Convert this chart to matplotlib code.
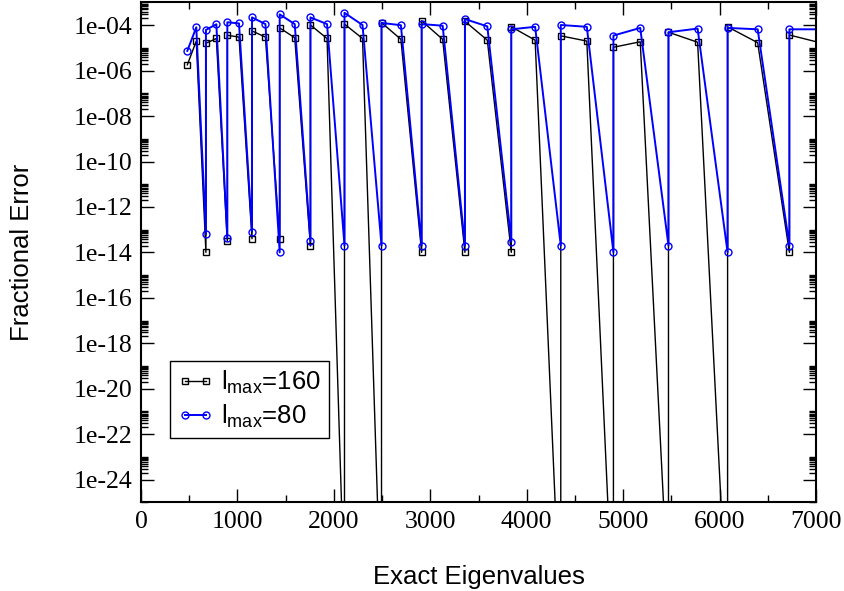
import numpy as np
import matplotlib.pyplot as plt
from matplotlib.ticker import FixedLocator, FuncFormatter, MultipleLocator, NullFormatter

# exact eigenvalues (the last one lies just past the x range)
eigenvalues = [480, 573, 673, 781, 895, 1016, 1151, 1290, 1438, 1594, 1757, 1929,
               2110, 2297, 2494, 2695, 2910, 3128, 3359, 3591, 3840, 4087, 4353,
               4623, 4899, 5177, 5470, 5772, 6083, 6395, 6724, 7065]

# fractional error, lmax = 160
err160_high = [1.8e-6, 2.0e-5, 1.6e-5, 2.6e-5, 3.6e-5, 3.0e-5, 5.6e-5, 3.0e-5,
               7.6e-5, 2.8e-5, 1.02e-4, 2.6e-5, 1.12e-4, 2.6e-5, 1.29e-4, 2.4e-5,
               1.55e-4, 2.4e-5, 1.48e-4, 2.2e-5, 8.5e-5, 2.2e-5, 3.4e-5, 2.0e-5,
               1.07e-5, 1.86e-5, 4.9e-5, 1.78e-5, 8.5e-5, 1.7e-5, 3.7e-5, 1.6e-5]
# the degenerate partner (every second eigenvalue from 673 on)
err160_low = [1.0e-14, 3.1e-14, 4.0e-14, 4.0e-14, 1.9e-14, 5.8e-30, 3.5e-31, 1.0e-14,
              1.0e-14, 1.0e-14, 1.8e-31, 3.7e-31, 4.4e-30, 1.9e-31, 1.0e-14]

# fractional error, lmax = 80
err80_high = [7.4e-6, 8.1e-5, 6.2e-5, 1.10e-4, 1.35e-4, 1.20e-4, 2.2e-4, 1.12e-4,
              3.0e-4, 1.12e-4, 2.2e-4, 1.12e-4, 3.5e-4, 1.02e-4, 1.26e-4, 1.0e-4,
              1.12e-4, 9.5e-5, 1.86e-4, 8.9e-5, 6.6e-5, 8.5e-5, 1.02e-4, 8.5e-5,
              3.5e-5, 7.6e-5, 4.9e-5, 7.1e-5, 7.6e-5, 6.6e-5, 6.6e-5, 6.6e-5]
err80_low = [6.3e-14, 4.2e-14, 8.1e-14, 1.0e-14, 3.1e-14, 2.0e-14, 2.0e-14, 2.0e-14,
             2.0e-14, 3.0e-14, 2.0e-14, 1.0e-14, 2.0e-14, 1.0e-14, 2.0e-14]


def trace(high, low):
    # low partner comes first, then the high one at the same eigenvalue
    xs, ys = [], []
    lo = iter(low)
    for i, (x, h) in enumerate(zip(eigenvalues, high)):
        if i >= 2 and i % 2 == 0:
            xs.append(x)
            ys.append(next(lo))
        xs.append(x)
        ys.append(h)
    return xs, ys


plt.rcParams['font.family'] = ['Liberation Sans', 'DejaVu Sans']
plt.rcParams['mathtext.fontset'] = 'custom'
plt.rcParams['mathtext.rm'] = 'Liberation Sans'

fig = plt.figure(figsize=(8.45, 5.91), dpi=100)
ax = fig.add_axes([0.1669, 0.1501, 0.7988, 0.8457])

x1, y1 = trace(err160_high, err160_low)
x2, y2 = trace(err80_high, err80_low)
ax.plot(x1, y1, color='black', lw=1.0, marker='s', ms=4.2, mfc='none', mew=1.0,
        label=r'l$_{\mathregular{max}}$=160')
ax.plot(x2, y2, color='#0000ff', lw=1.4, marker='o', ms=5.0, mfc='none', mew=1.0,
        label=r'l$_{\mathregular{max}}$=80')

ax.set_yscale('log')
ax.set_xlim(0, 7000)
ax.set_ylim(1e-25, 1e-3)

ax.xaxis.set_major_locator(MultipleLocator(1000))
ax.xaxis.set_minor_locator(MultipleLocator(500))
ax.yaxis.set_major_locator(FixedLocator([10.0 ** e for e in range(-24, -3, 2)]))
ax.yaxis.set_major_formatter(FuncFormatter(lambda v, p: f"1e-{-int(round(np.log10(v))):02d}"))
ax.yaxis.set_minor_locator(FixedLocator([k * 10.0 ** e for e in range(-26, -3, 2) for k in range(2, 11)]))
ax.yaxis.set_minor_formatter(NullFormatter())

ax.tick_params(which='both', direction='in', top=True, right=True, width=1.0)
ax.tick_params(which='major', length=9.5, pad=6)
ax.tick_params(which='minor', length=5)
for lab in ax.get_xticklabels() + ax.get_yticklabels():
    lab.set_family('Liberation Serif')
    lab.set_fontsize(18.5)
for sp in ax.spines.values():
    sp.set_linewidth(1.5)

ax.set_xlabel('Exact Eigenvalues', fontsize=18.5)
ax.set_ylabel('Fractional Error', fontsize=18.5)
ax.xaxis.set_label_coords(0.5, -0.125)
ax.yaxis.set_label_coords(-0.158, 0.5)

leg = ax.legend(loc='lower left', bbox_to_anchor=(0.043, 0.129), fontsize=18.5,
                numpoints=2, handlelength=1.4, handletextpad=0.3, borderpad=0.3,
                labelspacing=0.25, fancybox=False, framealpha=1, edgecolor='black',
                borderaxespad=0)
leg.get_frame().set_linewidth(1.0)

fig.savefig('out.png', dpi=100)
